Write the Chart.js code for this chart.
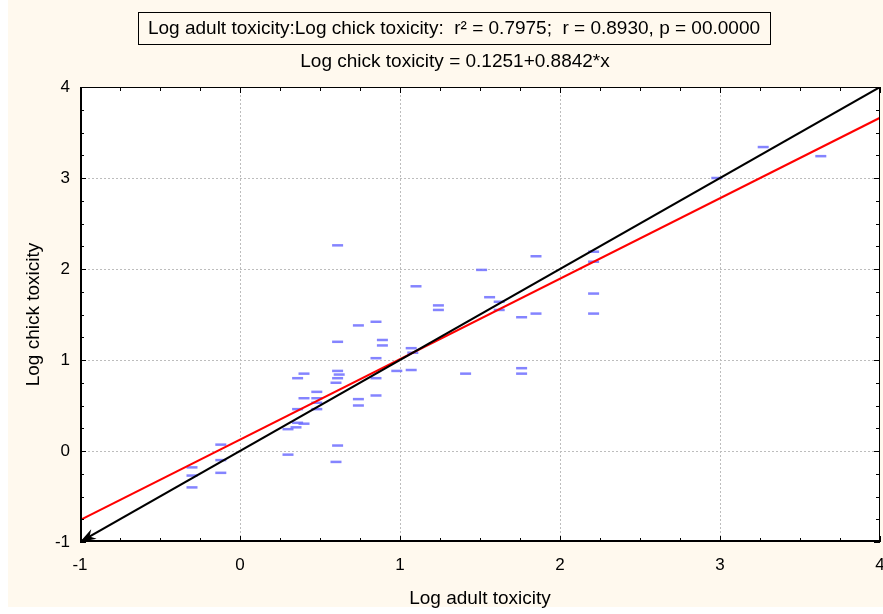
<!DOCTYPE html>
<html><head><meta charset="utf-8">
<script src="https://cdn.jsdelivr.net/npm/chart.js@4.4.0/dist/chart.umd.min.js"></script>
<style>html,body{margin:0;padding:0;background:#fff;overflow:hidden}#wrap{position:absolute;left:0;top:0;width:888px;height:614px}</style>
</head><body><div id="wrap"><canvas id="c" width="888" height="614"></canvas></div>
<script>
// ---- data ----
const adultX = [-0.30,-0.30,-0.30,-0.12,-0.12,-0.12,0.30,0.30,0.35,0.36,0.40,0.36,0.40,0.48,0.48,0.48,0.48,0.36,0.40,0.60,0.61,0.62,0.61,0.61,0.60,0.61,0.61,0.74,0.74,0.74,0.85,0.85,0.85,0.85,0.89,0.89,0.98,1.07,1.07,1.08,1.10,1.24,1.24,1.41,1.51,1.56,1.62,1.62,1.76,1.76,1.76,1.85,1.85,2.21,2.21,2.21,2.21,2.98,3.27,3.63];
const chickY = [-0.18,-0.27,-0.40,0.07,-0.10,-0.24,0.24,-0.04,0.26,0.31,0.30,0.46,0.58,0.65,0.58,0.53,0.46,0.80,0.85,0.75,0.88,0.84,0.80,0.06,-0.12,1.20,2.26,1.38,0.57,0.50,1.42,1.02,0.80,0.61,1.22,1.16,0.88,0.89,1.13,1.08,1.81,1.60,1.55,0.85,1.99,1.69,1.64,1.55,1.47,0.91,0.85,2.14,1.51,2.19,2.08,1.73,1.51,3.00,3.34,3.24];
const fitLineX = [-1, 4];
const fitLineY = [-0.7591, 3.6619];
const identityX = [-1, 4];
const identityY = [-1, 4];
const xTicks = [-1, 0, 1, 2, 3, 4];
const yTicks = [-1, 0, 1, 2, 3, 4];
const titleText = 'Log adult toxicity:Log chick toxicity:  r\u00B2 = 0.7975;  r = 0.8930, p = 00.0000';
const equationText = 'Log chick toxicity = 0.1251+0.8842*x';
const xLabel = 'Log adult toxicity';
const yLabel = 'Log chick toxicity';

const FONT = '"Liberation Sans", Arial, sans-serif';
const CREAM = '#fff9ee';

const decor = {
  id: 'decor',
  beforeDraw(chart) {
    const {ctx, chartArea: a} = chart;
    ctx.save();
    ctx.fillStyle = CREAM;
    ctx.fillRect(8, 0, 880, 607);
    ctx.fillStyle = '#ffffff';
    ctx.fillRect(a.left, a.top, a.right - a.left, a.bottom - a.top);
    ctx.restore();
  },
  afterDraw(chart) {
    const {ctx, chartArea: a, scales} = chart;
    const xs = scales.x, ys = scales.y;
    ctx.save();
    // arrow head on identity line at (-1,-1)
    const tx = xs.getPixelForValue(identityX[0]), ty = ys.getPixelForValue(identityY[0]);
    const ox = xs.getPixelForValue(identityX[1]), oy = ys.getPixelForValue(identityY[1]);
    let dx = ox - tx, dy = oy - ty; const L = Math.hypot(dx, dy); dx /= L; dy /= L;
    const len = 16, hw = 5.5, notch = 11;
    ctx.fillStyle = '#000';
    ctx.beginPath();
    ctx.moveTo(tx, ty);
    ctx.lineTo(tx + dx*len - dy*hw, ty + dy*len + dx*hw);
    ctx.lineTo(tx + dx*notch, ty + dy*notch);
    ctx.lineTo(tx + dx*len + dy*hw, ty + dy*len - dx*hw);
    ctx.closePath();
    ctx.fill();
    // frame
    ctx.strokeStyle = '#000';
    ctx.lineWidth = 1;
    ctx.strokeRect(a.left + 0.5, a.top + 0.5, a.right - a.left - 1, a.bottom - a.top - 1);
    ctx.lineWidth = 2;
    ctx.beginPath();
    ctx.moveTo(a.left + 1, a.top); ctx.lineTo(a.left + 1, a.bottom - 1); ctx.lineTo(a.right, a.bottom - 1);
    ctx.stroke();
    // inward ticks every 0.25
    ctx.lineWidth = 1;
    ctx.beginPath();
    for (let v = -1; v <= 4.0001; v += 0.25) {
      const major = Math.abs(v - Math.round(v)) < 1e-6;
      const t = major ? 6 : 4;
      const px = Math.round(xs.getPixelForValue(v)) + 0.5;
      const py = Math.round(ys.getPixelForValue(v)) + 0.5;
      ctx.moveTo(px, a.bottom); ctx.lineTo(px, a.bottom - t);
      ctx.moveTo(px, a.top); ctx.lineTo(px, a.top + t);
      ctx.moveTo(a.left, py); ctx.lineTo(a.left + t, py);
      ctx.moveTo(a.right, py); ctx.lineTo(a.right - t, py);
    }
    ctx.stroke();
    // title box + equation
    ctx.font = '19px ' + FONT;
    ctx.fillStyle = '#000';
    ctx.textAlign = 'center';
    ctx.textBaseline = 'middle';
    const cx = 454;
    const tw = ctx.measureText(titleText).width;
    ctx.lineWidth = 1;
    ctx.strokeRect(Math.round(cx - tw/2 - 10) + 0.5, 12.5, Math.round(tw + 20), 32);
    ctx.fillText(titleText, cx, 29);
    ctx.fillText(equationText, cx + 1, 62);
    ctx.restore();
  }
};

new Chart(document.getElementById('c'), {
  type: 'scatter',
  data: {
    datasets: [
      {
        type: 'line', label: 'identity',
        data: identityX.map((x, i) => ({x, y: identityY[i]})),
        borderColor: '#000000', borderWidth: 2, pointRadius: 0, fill: false, tension: 0
      },
      {
        type: 'line', label: 'fit',
        data: fitLineX.map((x, i) => ({x, y: fitLineY[i]})),
        borderColor: '#ff0000', borderWidth: 2, pointRadius: 0, fill: false, tension: 0
      },
      {
        label: 'data',
        data: adultX.map((x, i) => ({x, y: chickY[i]})),
        pointStyle: 'line', pointRadius: 5.5, borderWidth: 2.5,
        borderColor: 'rgba(110,110,255,0.85)', backgroundColor: 'rgba(110,110,255,0.85)'
      }
    ]
  },
  options: {
    responsive: false,
    devicePixelRatio: 1,
    animation: false,
    layout: {padding: {top: 87, right: 0, left: 0, bottom: 0}},
    plugins: {legend: {display: false}, tooltip: {enabled: false}, title: {display: false}},
    scales: {
      x: {
        type: 'linear', min: -1, max: 4,
        afterBuildTicks: s => { s.ticks = xTicks.map(v => ({value: v})); },
        afterFit: s => { s.height = 72; s.paddingLeft = 0; s.paddingRight = 0; },
        ticks: {font: {size: 17, family: FONT}, color: '#000', padding: 13, autoSkip: false, maxRotation: 0},
        grid: {drawTicks: false, color: c => (c.tick && (c.tick.value === -1 || c.tick.value === 4)) ? 'rgba(0,0,0,0)' : '#bdbdbd', lineWidth: 1},
        border: {display: false, dash: [2, 2]},
        title: {display: true, text: xLabel, font: {size: 19, family: FONT}, color: '#000', padding: {top: 0, bottom: 4}}
      },
      y: {
        type: 'linear', min: -1, max: 4,
        afterBuildTicks: s => { s.ticks = yTicks.map(v => ({value: v})); },
        afterFit: s => { s.width = 80; s.paddingTop = 0; s.paddingBottom = 0; },
        ticks: {font: {size: 17, family: FONT}, color: '#000', padding: 10, autoSkip: false},
        grid: {drawTicks: false, color: c => (c.tick && (c.tick.value === -1 || c.tick.value === 4)) ? 'rgba(0,0,0,0)' : '#bdbdbd', lineWidth: 1},
        border: {display: false, dash: [2, 2]},
        title: {display: true, text: yLabel, font: {size: 19, family: FONT}, color: '#000', padding: {top: 22, bottom: 0}}
      }
    }
  },
  plugins: [decor]
});
</script>
</body></html>
